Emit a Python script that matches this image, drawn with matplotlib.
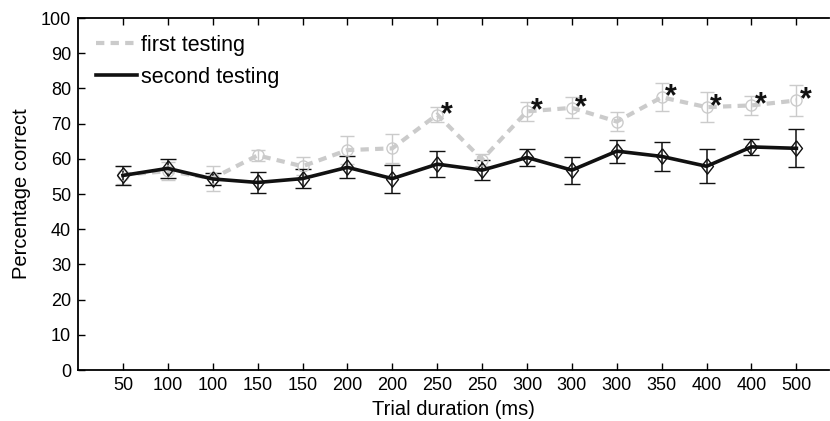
import matplotlib.pyplot as plt
from matplotlib.lines import Line2D

plt.rcParams['font.family'] = ['Liberation Sans', 'DejaVu Sans']

durations = ['50', '100', '100', '150', '150', '200', '200', '250', '250',
             '300', '300', '300', '350', '400', '400', '500']

first_mean = [55.5, 56.5, 54.5, 61.0, 57.9, 62.5, 63.0, 72.6, 59.8,
              73.5, 74.5, 70.6, 77.5, 74.7, 75.2, 76.6]
first_err = [2.5, 2.5, 3.6, 1.5, 2.5, 4.0, 4.2, 2.0, 1.7,
             2.7, 3.0, 2.6, 4.0, 4.2, 2.8, 4.3]

second_mean = [55.3, 57.3, 54.3, 53.3, 54.4, 57.6, 54.4, 58.5, 56.8,
               60.4, 56.8, 62.2, 60.7, 57.9, 63.4, 63.0]
second_err = [2.8, 2.8, 1.8, 3.1, 2.8, 3.1, 4.0, 3.6, 2.8,
              2.5, 3.8, 3.3, 4.1, 4.8, 2.2, 5.4]

# indices where first testing differs significantly
signif = [7, 9, 10, 12, 13, 14, 15]

x = list(range(1, len(durations) + 1))
gray = '#cbcbcb'
dark = '#111111'
dash = (0, (2, 1.5))
diamond = [(0, 1), (0.78, 0), (0, -1), (-0.78, 0), (0, 1)]

fig = plt.figure(figsize=(8.3, 4.21), dpi=100)
ax = fig.add_axes([0.094, 0.121, 0.905, 0.836])

ax.errorbar(x, first_mean, yerr=first_err, color=gray, ecolor=gray,
            elinewidth=1.0, capsize=5, capthick=1.0, lw=3, ls=dash,
            marker='o', ms=8, mfc='none', mec=gray, mew=1.0)
ax.errorbar(x, second_mean, yerr=second_err, color=dark, ecolor=dark,
            elinewidth=1.1, capsize=5.5, capthick=1.1, lw=2.6,
            marker=diamond, ms=11, mfc='none', mec=dark, mew=1.0)

for i in signif:
    ax.annotate('*', (x[i], first_mean[i]), xytext=(2.5, -11),
                textcoords='offset points', fontsize=22, fontweight='bold',
                ha='left', va='bottom', color=dark)

ax.set_xlim(0, 16.73)
ax.set_ylim(0, 100)
ax.set_xticks(x)
ax.set_xticklabels(durations)
ax.set_yticks(range(0, 101, 10))
ax.tick_params(direction='in', labelsize=13, top=True, length=5, width=1,
               pad=5)
ax.spines['right'].set_visible(False)
for s in ['left', 'bottom', 'top']:
    ax.spines[s].set_linewidth(1.3)
ax.set_xlabel('Trial duration (ms)', fontsize=14.5, labelpad=4)
ax.set_ylabel('Percentage correct', fontsize=14.5, labelpad=7)

handles = [Line2D([], [], color=gray, lw=3, ls=dash),
           Line2D([], [], color=dark, lw=2.6)]
ax.legend(handles, ['first testing', 'second testing'], loc='upper left',
          bbox_to_anchor=(0.024, 0.952), frameon=False, fontsize=15.5,
          handlelength=1.9, handletextpad=0.2, borderpad=0, borderaxespad=0,
          labelspacing=0.5)

fig.savefig('out.png', dpi=100)
